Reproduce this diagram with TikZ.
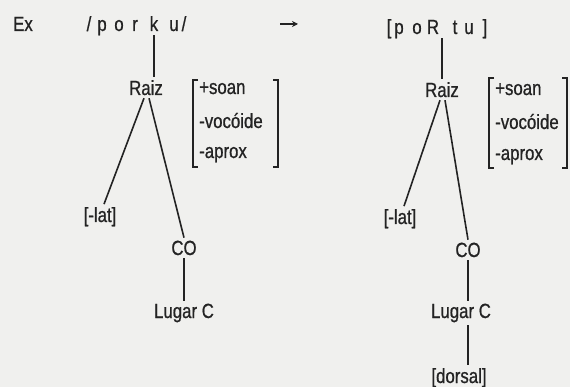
\documentclass[tikz,border=0pt]{standalone}
\usepackage{fontspec}
\setmainfont{Liberation Sans}[FakeStretch=0.82,FakeBold=0.8]
\usetikzlibrary{arrows.meta}
\definecolor{bg}{RGB}{240,240,238}
\definecolor{ink}{RGB}{35,35,35}
\begin{document}
\begin{tikzpicture}[x=1pt,y=-1pt,
  every node/.style={font=\fontsize{20.5}{24}\selectfont, text=ink},
  lbl/.style={inner sep=1pt, outer sep=2pt, anchor=base},
  ch/.style={inner sep=0pt, anchor=base},
  feat/.style={inner sep=0pt, anchor=base west},
  link/.style={draw=ink, line width=1.6pt},
  brk/.style={draw=ink, line width=1.6pt}]
\fill[bg] (0,0) rectangle (570,387);
\useasboundingbox (0,0) rectangle (570,387);

% header
\node[ch] (ex) at (23,31) {Ex};
\node[ch] (l1) at (89,31) {/};
\node[ch] (l2) at (102,31) {p};
\node[ch] (l3) at (119,31) {o};
\node[ch] (l4) at (135,31) {r};
\node[ch] (lk) at (154,31) {k};
\node[ch] (l6) at (174,31) {u};
\node[ch] (l7) at (184,31) {/};

\coordinate (a1) at (280,24);
\coordinate (a2) at (298,24);
\draw[ink, line width=1.3pt, -{Stealth[length=6pt,width=6pt]}] (a1) -- (a2);

\node[ch] (r1) at (389,34) {[};
\node[ch] (r2) at (399,34) {p};
\node[ch] (r3) at (417,34) {o};
\node[ch] (r4) at (433,34) {R};
\node[ch] (r5) at (455,34) {t};
\node[ch] (r6) at (469,34) {u};
\node[ch] (r7) at (485,34) {]};

% left tree
\node[lbl] (rzL) at (146,95) {Raiz};
\node[lbl] (latL) at (100,222) {[-lat]};
\node[lbl] (coL) at (184,255) {CO};
\node[lbl] (lgL) at (184,318) {Lugar C};

\draw[link] ([yshift=-4pt]lk.south) -- (lk.south |- rzL.north);
\draw[link] ([xshift=-2pt]rzL.south) -- ([xshift=4pt]latL.north);
\draw[link] ([xshift=3pt]rzL.south) -- (coL.north);
\draw[link] (coL.south) -- (lgL.north);

\node[feat] (fL1) at (199,94) {+soan};
\node[feat] (fL2) at (199,128) {-vocóide};
\node[feat] (fL3) at (199,158) {-aprox};
\draw[brk] (198,80) -- (193,80) -- (193,167) -- (198,167);
\draw[brk] (273,80) -- (278,80) -- (278,167) -- (273,167);

% right tree
\node[lbl] (rzR) at (442,97) {Raiz};
\node[lbl] (latR) at (400,224) {[-lat]};
\node[lbl] (coR) at (468,257) {CO};
\node[lbl] (lgR) at (461,318) {Lugar C};
\node[lbl] (dorR) at (459,383) {[dorsal]};

\draw[link] ([yshift=-4pt]r4.south -| rzR.north) -- (rzR.north);
\draw[link] ([xshift=-2pt]rzR.south) -- ([xshift=4pt]latR.north);
\draw[link] ([xshift=3pt]rzR.south) -- (coR.north);
\draw[link] (coR.south) -- (coR.south |- lgR.north);
\draw[link] (lgR.south -| coR.south) -- (coR.south |- dorR.north);

\node[feat] (fR1) at (495,95) {+soan};
\node[feat] (fR2) at (495,129) {-vocóide};
\node[feat] (fR3) at (495,160) {-aprox};
\draw[brk] (494,78) -- (489,78) -- (489,168) -- (494,168);
\draw[brk] (562,78) -- (567,78) -- (567,168) -- (562,168);
\end{tikzpicture}
\end{document}
